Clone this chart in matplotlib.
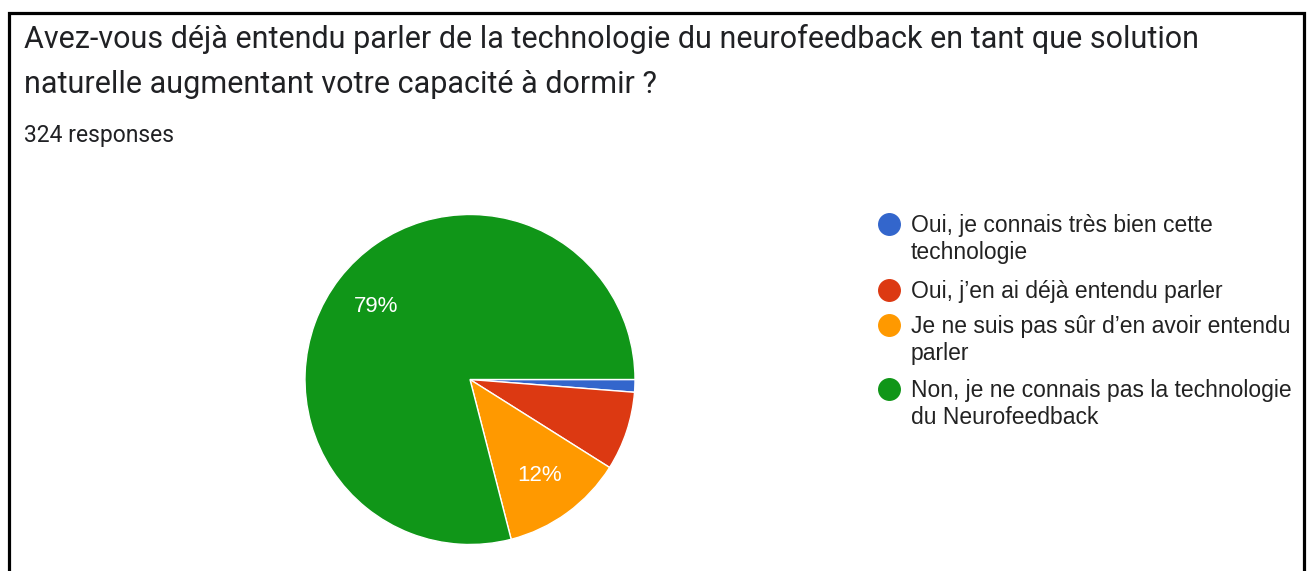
import matplotlib
matplotlib.use("Agg")
import matplotlib.pyplot as plt
from matplotlib.lines import Line2D

title_lines = ["Avez-vous déjà entendu parler de la technologie du neurofeedback en tant que solution",
               "naturelle augmentant votre capacité à dormir ?"]
subtitle = "324 responses"
categories = ["Oui, je connais très bien cette\ntechnologie",
              "Oui, j’en ai déjà entendu parler",
              "Je ne suis pas sûr d’en avoir entendu\nparler",
              "Non, je ne connais pas la technologie\ndu Neurofeedback"]
counts = [4, 25, 39, 256]
colors = ["#3366cc", "#dc3912", "#ff9900", "#109618"]

W, H = 1309, 571
fig = plt.figure(figsize=(W / 100, H / 100), dpi=100)
fig.patch.set_facecolor("white")

def fx(px):
    return px / W

def fy(py):
    return 1 - py / H

# border
fig.add_artist(Line2D([fx(8.5), fx(8.5), fx(1303.5), fx(1303.5)],
                      [-0.05, fy(12.5), fy(12.5), -0.05],
                      transform=fig.transFigure, color="black", lw=2.3,
                      solid_joinstyle="miter"))

# titles
fig.text(fx(24), fy(48), title_lines[0], fontsize=22, family="Roboto", color="#202124")
fig.text(fx(24), fy(93), title_lines[1], fontsize=22, family="Roboto", color="#202124")
fig.text(fx(24), fy(142), subtitle, fontsize=16.5, family="Roboto", color="#202124")

# pie
cx, cy, r = 470, 379.5, 165
ax = fig.add_axes([fx(cx - r), fy(cy + r), 2 * r / W, 2 * r / H])

def fmt(p):
    return f"{p:.0f}%" if p >= 10 else ""

wedges, texts, autotexts = ax.pie(counts, colors=colors, startangle=0, counterclock=False,
                                  autopct=fmt, pctdistance=0.72, radius=1,
                                  wedgeprops=dict(edgecolor="white", linewidth=1.0),
                                  textprops=dict(color="white", fontsize=16, family="Liberation Sans"))
ax.set_xlim(-1, 1)
ax.set_ylim(-1, 1)
ax.set_aspect("auto")
ax.axis("off")

# legend
baselines = [232, 298, 333, 397]
line_gap = 27
for yb, lab, c in zip(baselines, categories, colors):
    fig.add_artist(Line2D([fx(889)], [fy(yb - 8.5)], marker="o", markersize=15.5,
                          markerfacecolor=c, markeredgecolor=c, linestyle="none",
                          transform=fig.transFigure))
    for i, line in enumerate(lab.split("\n")):
        fig.text(fx(911), fy(yb + i * line_gap), line, fontsize=16.5,
                 family="Liberation Sans", color="#222222", va="baseline")

fig.savefig("out.png", dpi=100)
